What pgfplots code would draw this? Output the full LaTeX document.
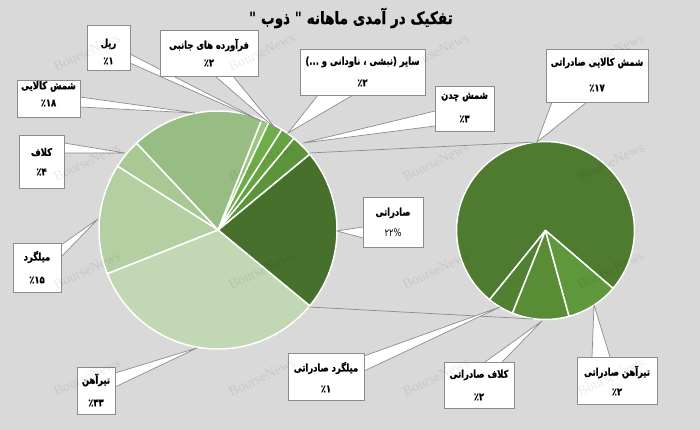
\documentclass[border=0pt]{standalone}
\usepackage{fontspec}
\usepackage{pgfplots}
\pgfplotsset{compat=1.18}
\TeXXeTstate=1
\newfontfamily\fa[Script=Arabic, FakeStretch=0.8, BoldFeatures={FakeBold=1}]{DejaVu Sans}
\newfontfamily\dv[FakeStretch=0.8]{DejaVu Sans}
\newfontfamily\wm{Liberation Serif}
\definecolor{bg}{HTML}{D9D9D9}
\definecolor{lg}{HTML}{8C8C8C}
\definecolor{cSad}{HTML}{46702B}
\definecolor{cChodan}{HTML}{5B943A}
\definecolor{cSayer}{HTML}{66A243}
\definecolor{cFar}{HTML}{6EAD47}
\definecolor{cRail}{HTML}{9CC582}
\definecolor{cShKal}{HTML}{97BD82}
\definecolor{cKalaf}{HTML}{A8C894}
\definecolor{cMilg}{HTML}{B4CFA2}
\definecolor{cTir}{HTML}{C2D8B4}
\definecolor{cRA}{HTML}{4E7B30}
\definecolor{cRB}{HTML}{528033}
\definecolor{cRC}{HTML}{588D36}
\definecolor{cRD}{HTML}{5F973D}
% pie helper: value, colour (uses \pcx,\pcy,\pr,\pscale,\pstart)
\newcommand\pieslice[2]{%
  \pgfmathsetmacro\pend{\pstart+#1*\pscale}%
  \edef\doslice{\noexpand\addplot[fill=#2, draw=white, line width=1.5pt, line join=round, domain=\pstart:\pend, samples=60] ({\pcx+\pr*cos(x)},{\pcy-\pr*sin(x)}) -- (axis cs:\pcx,\pcy) -- cycle;}%
  \doslice
  \xdef\pstart{\pend}%
}
% callout: box corner1, corner2, base1, base2, tip, name pos, name, pct pos, pct
\newcommand\callout[9]{%
  \filldraw[fill=white, draw=lg, line width=0.7pt] #3 -- #5 -- #4;
  \filldraw[fill=white, draw=lg, line width=0.7pt] #1 rectangle #2;
  \node[font=\fa\bfseries\fontsize{10.5}{12}\selectfont, inner sep=0pt] at #6 {#7};
  \node[font=\fa\bfseries\fontsize{10.5}{12}\selectfont, inner sep=0pt] at #8 {#9};
}
\newcommand\wmark[2]{\node[font=\wm\fontsize{14}{14}\selectfont, text=black, text opacity=0.08, rotate=25, inner sep=0pt] at (axis cs:#1,#2) {BourseNews};}
\begin{document}
\begin{tikzpicture}
\begin{axis}[width=700pt, height=430pt, scale only axis,
  xmin=0, xmax=700, ymin=0, ymax=430, y dir=reverse,
  axis lines=none, clip=false]
\fill[bg] (axis cs:0,0) rectangle (axis cs:700,430);
% left pie (percent of total)
\def\pcx{218}\def\pcy{230}\def\pr{119}\def\pscale{3.6}\xdef\pstart{-39.6}
\pieslice{22}{cSad}
\pieslice{3}{cChodan}
\pieslice{2}{cSayer}
\pieslice{2}{cFar}
\pieslice{1}{cRail}
\pieslice{18}{cShKal}
\pieslice{4}{cKalaf}
\pieslice{15}{cMilg}
\pieslice{33}{cTir}
% right pie (split of exports, 22 in all)
\def\pcx{545.5}\def\pcy{230.5}\def\pr{89}\def\pscale{16.3636}\xdef\pstart{-40.6}
\pieslice{16.6}{cRA}
\pieslice{1.05}{cRB}
\pieslice{2.27}{cRC}
\pieslice{2.08}{cRD}
% connectors
\draw[lg, line width=0.7pt] (axis cs:309,153) -- (axis cs:537,142);
\draw[lg, line width=0.7pt] (axis cs:309,307) -- (axis cs:533,319);
% callouts
\callout{(axis cs:87,25)}{(axis cs:130,70)}{(axis cs:130,54)}{(axis cs:130,63)}{(axis cs:263,122)}{(axis cs:108.5,44)}{\beginR ریل\endR}{(axis cs:108.5,61)}{٪۱}
\callout{(axis cs:160,30)}{(axis cs:258,76)}{(axis cs:215,76)}{(axis cs:233,76)}{(axis cs:276,129)}{(axis cs:209,45)}{\beginR فرآورده های جانبی\endR}{(axis cs:209,63)}{٪۲}
\callout{(axis cs:17,80)}{(axis cs:80,117)}{(axis cs:80,97)}{(axis cs:80,107)}{(axis cs:195,113)}{(axis cs:48.5,86.5)}{\beginR شمش کالایی\endR}{(axis cs:48.5,103)}{٪۱۸}
\callout{(axis cs:300,49)}{(axis cs:425,95)}{(axis cs:318,95)}{(axis cs:353,95)}{(axis cs:288,133)}{(axis cs:362.5,62)}{\beginR سایر (نبشی ، ناودانی و ...)\endR}{(axis cs:362.5,83)}{٪۲}
\callout{(axis cs:435,86)}{(axis cs:494,131)}{(axis cs:435,111)}{(axis cs:435,126)}{(axis cs:303,143)}{(axis cs:464.5,97)}{\beginR شمش چدن\endR}{(axis cs:464.5,119)}{٪۳}
\callout{(axis cs:546,49)}{(axis cs:648,102)}{(axis cs:552,102)}{(axis cs:587,102)}{(axis cs:537,142)}{(axis cs:597,63)}{\beginR شمش کالایی صادراتی\endR}{(axis cs:597,88)}{٪۱۷}
\callout{(axis cs:19,135)}{(axis cs:64,188)}{(axis cs:64,143)}{(axis cs:64,153)}{(axis cs:125,153)}{(axis cs:41.5,152)}{\beginR کلاف\endR}{(axis cs:41.5,172)}{٪۴}
\callout{(axis cs:13,243)}{(axis cs:61,292)}{(axis cs:61,245)}{(axis cs:61,257)}{(axis cs:98,219)}{(axis cs:37,257)}{\beginR میلگرد\endR}{(axis cs:37,280)}{٪۱۵}
\callout{(axis cs:77,367)}{(axis cs:115,414)}{(axis cs:115,373)}{(axis cs:115,387)}{(axis cs:197,348)}{(axis cs:96,380)}{\beginR تیرآهن\endR}{(axis cs:96,403)}{٪۳۳}
\callout{(axis cs:363,197)}{(axis cs:423,247)}{(axis cs:363,227)}{(axis cs:363,238)}{(axis cs:337,231)}{(axis cs:393,213)}{\beginR صادراتی\endR}{(axis cs:393,233)}{\mdseries ۲۲\kern0pt{\dv\%}}
\callout{(axis cs:288,353)}{(axis cs:364,400)}{(axis cs:364,356)}{(axis cs:364,371)}{(axis cs:500,307)}{(axis cs:326,368)}{\beginR میلگرد صادراتی\endR}{(axis cs:326,389)}{٪۱}
\callout{(axis cs:444,362)}{(axis cs:514,408)}{(axis cs:485,362)}{(axis cs:502,362)}{(axis cs:542,321)}{(axis cs:479,375)}{\beginR کلاف صادراتی\endR}{(axis cs:479,397)}{٪۲}
\callout{(axis cs:577,357)}{(axis cs:657,404)}{(axis cs:592,357)}{(axis cs:610,357)}{(axis cs:594,305)}{(axis cs:617,372)}{\beginR تیرآهن صادراتی\endR}{(axis cs:617,392)}{٪۲}
% title
\node[font=\fa\bfseries\fontsize{17}{19}\selectfont, inner sep=0pt] at (axis cs:351,18) {\beginR تفکیک در آمدی ماهانه {\dv\char"22} ذوب {\dv\char"22}\endR};
% watermarks
\wmark{87}{52}\wmark{262}{52}\wmark{436}{52}\wmark{611}{52}
\wmark{87}{162}\wmark{262}{162}\wmark{436}{162}\wmark{611}{162}
\wmark{87}{270}\wmark{262}{270}\wmark{436}{270}\wmark{611}{270}
\wmark{87}{377}\wmark{262}{377}\wmark{436}{377}\wmark{611}{377}
\end{axis}
\end{tikzpicture}
\end{document}
